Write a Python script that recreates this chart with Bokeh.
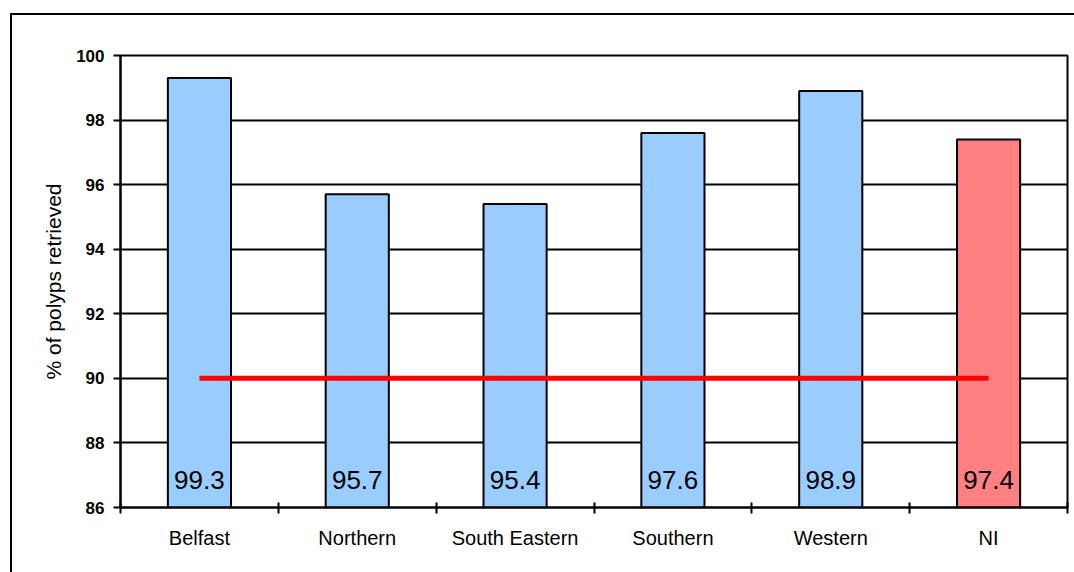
from bokeh.plotting import figure
from bokeh.models import FixedTicker, Range1d, ColumnDataSource
from bokeh.core.properties import value
from bokeh.embed import file_html
from bokeh.resources import INLINE

categories = ["Belfast", "Northern", "South Eastern", "Southern", "Western", "NI"]
retrieved = [99.3, 95.7, 95.4, 97.6, 98.9, 97.4]
bar_colors = ["#99CCFF", "#99CCFF", "#99CCFF", "#99CCFF", "#99CCFF", "#FF8080"]
target = 90
y_ticks = [86, 88, 90, 92, 94, 96, 98, 100]

FONT = "Liberation Sans"
n = len(categories)
centers = [i + 0.5 for i in range(n)]

p = figure(width=1064, height=559, output_backend="svg", toolbar_location=None,
           x_range=Range1d(0, n), y_range=Range1d(y_ticks[0], y_ticks[-1]),
           min_border_left=108, min_border_right=9, min_border_top=40, min_border_bottom=67,
           margin=(13, 0, 0, 10))
p.styles = {"border-left": "2px solid black", "border-top": "2px solid black"}
p.background_fill_color = "white"
p.border_fill_color = "white"
p.outline_line_color = "black"
p.outline_line_width = 2

src = ColumnDataSource(dict(x=centers, top=retrieved, color=bar_colors,
                            label=[f"{v:.1f}" for v in retrieved]))
p.vbar(x="x", top="top", bottom=y_ticks[0], width=0.4, fill_color="color",
       line_color="black", line_width=2, source=src)

p.line(x=[centers[0], centers[-1]], y=[target, target], line_color="#FF0000", line_width=5)

label_y = y_ticks[0] + 28 * (y_ticks[-1] - y_ticks[0]) / 452
p.text(x="x", y=label_y, text="label", source=src, text_align="center",
       text_baseline="middle", text_font=value(FONT), text_font_size="26px",
       text_color="black")

# grid
p.xgrid.grid_line_color = None
p.ygrid.grid_line_color = "black"
p.ygrid.grid_line_width = 2
p.ygrid.ticker = FixedTicker(ticks=y_ticks)

# y axis
p.yaxis.ticker = FixedTicker(ticks=y_ticks)
p.yaxis.axis_label = "% of polyps retrieved"
p.yaxis.axis_label_text_font = FONT
p.yaxis.axis_label_text_font_style = "normal"
p.yaxis.axis_label_text_font_size = "21px"
p.yaxis.axis_label_text_color = "black"
p.yaxis.axis_label_standoff = 8
p.yaxis.major_label_text_font = FONT
p.yaxis.major_label_text_font_style = "bold"
p.yaxis.major_label_text_font_size = "17px"
p.yaxis.major_label_text_color = "black"
p.yaxis.major_label_standoff = 9
p.yaxis.major_tick_in = 0
p.yaxis.major_tick_out = 7
p.yaxis.major_tick_line_width = 2
p.yaxis.minor_tick_line_color = None
p.yaxis.axis_line_width = 2
p.yaxis.axis_line_color = "black"

# x axis: labels at centers, ticks at boundaries
p.xaxis.ticker = FixedTicker(ticks=centers, minor_ticks=list(range(n + 1)))
p.xaxis.major_label_overrides = {c: name for c, name in zip(centers, categories)}
p.xaxis.major_tick_line_color = None
p.xaxis.major_tick_in = 0
p.xaxis.major_tick_out = 0
p.xaxis.minor_tick_in = 5
p.xaxis.minor_tick_out = 6
p.xaxis.minor_tick_line_width = 2
p.xaxis.minor_tick_line_color = "black"
p.xaxis.axis_line_width = 2
p.xaxis.axis_line_color = "black"
p.xaxis.major_label_text_font = FONT
p.xaxis.major_label_text_font_size = "20px"
p.xaxis.major_label_text_color = "black"
p.xaxis.major_label_standoff = 13

open("out.html", "w").write(file_html(p, INLINE))
